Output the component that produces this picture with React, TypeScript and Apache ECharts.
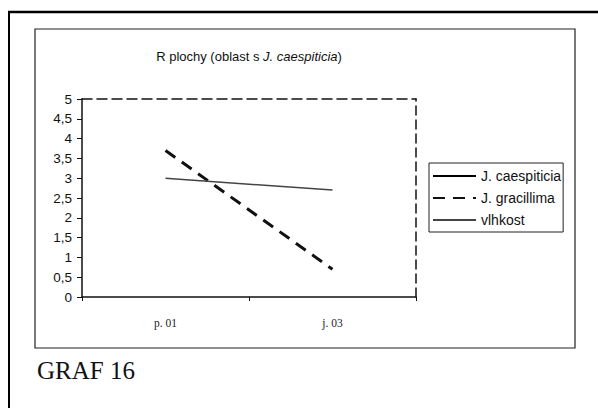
import React, { useEffect, useRef } from "react";
import * as echarts from "echarts";

const categories = ["p. 01", "j. 03"];
const seriesNames = ["J. caespiticia", "J. gracillima", "vlhkost"];
const caespiticia: (number | null)[] = [null, null];
const gracillima = [3.7, 0.7];
const vlhkost = [3.0, 2.7];
const yMin = 0;
const yMax = 5;
const yStep = 0.5;

export default function App() {
  const ref = useRef<HTMLDivElement>(null);
  useEffect(() => {
    if (!ref.current) return;
    const chart = echarts.init(ref.current, null, { renderer: "svg" });
    const sans = "Liberation Sans, Arial, sans-serif";
    const serif = "Liberation Serif, Times New Roman, serif";
    chart.setOption({
      animation: false,
      backgroundColor: "#ffffff",
      title: {
        text: "{n|R plochy (oblast s }{i|J. caespiticia}{n|)}",
        left: 244,
        top: 45,
        textAlign: "center",
        textStyle: {
          fontWeight: "normal",
          fontSize: 13,
          rich: {
            n: { fontFamily: sans, fontSize: 13, fontWeight: "normal", color: "#111" },
            i: { fontFamily: sans, fontSize: 13, fontWeight: "normal", fontStyle: "italic", color: "#111" },
          },
        },
      },
      legend: {
        orient: "vertical",
        left: 429,
        top: 163,
        padding: [6, 2, 5, 3],
        itemWidth: 43,
        itemHeight: 12,
        itemGap: 8,
        borderColor: "#222",
        borderWidth: 1,
        data: seriesNames,
        itemStyle: { opacity: 0 },
        textStyle: { fontFamily: sans, fontSize: 14, color: "#111" },
      },
      grid: { left: 82, top: 99, right: 182, bottom: 111 },
      xAxis: [
        {
          type: "category",
          data: categories,
          boundaryGap: true,
          axisLine: { onZero: false, lineStyle: { color: "#111", width: 1.5 } },
          axisTick: { show: true, length: 4, lineStyle: { color: "#111" } },
          axisLabel: { fontFamily: serif, fontSize: 11.5, color: "#222", margin: 20 },
        },
        {
          type: "category",
          data: categories,
          position: "top",
          axisLine: { onZero: false, lineStyle: { color: "#111", width: 1.5, type: [10, 5] } },
          axisTick: { show: false },
          axisLabel: { show: false },
        },
      ],
      yAxis: [
        {
          type: "value",
          min: yMin,
          max: yMax,
          interval: yStep,
          axisLine: { show: true, onZero: false, lineStyle: { color: "#111", width: 1.5 } },
          axisTick: { show: true, length: 5, lineStyle: { color: "#111" } },
          splitLine: { show: false },
          axisLabel: {
            fontFamily: sans,
            fontSize: 13.5,
            color: "#111",
            margin: 10,
            formatter: (v: number) => String(v).replace(".", ","),
          },
        },
        {
          type: "value",
          min: yMin,
          max: yMax,
          interval: yStep,
          position: "right",
          axisLine: { show: true, onZero: false, lineStyle: { color: "#111", width: 1.5, type: [9, 5] } },
          axisTick: { show: false },
          axisLabel: { show: false },
          splitLine: { show: false },
        },
      ],
      series: [
        {
          name: seriesNames[0],
          type: "line",
          data: caespiticia,
          symbol: "none",
          lineStyle: { color: "#000", width: 3 },
          itemStyle: { color: "#000" },
        },
        {
          name: seriesNames[1],
          type: "line",
          data: gracillima,
          symbol: "none",
          lineStyle: { color: "#111", width: 3, type: [12, 8] },
          itemStyle: { color: "#111" },
        },
        {
          name: seriesNames[2],
          type: "line",
          data: vlhkost,
          symbol: "none",
          lineStyle: { color: "#444", width: 1.5 },
          itemStyle: { color: "#444" },
        },
      ],
      graphic: [
        { type: "line", shape: { x1: 8, y1: 12, x2: 598, y2: 12 }, style: { stroke: "#000", lineWidth: 2.5 } },
        { type: "line", shape: { x1: 9, y1: 11, x2: 9, y2: 408 }, style: { stroke: "#000", lineWidth: 2 } },
        {
          type: "rect",
          shape: { x: 35, y: 29, width: 540, height: 319 },
          style: { fill: "none", stroke: "#222", lineWidth: 1.2 },
        },
        {
          type: "text",
          x: 37,
          y: 370,
          style: {
            text: "GRAF 16",
            font: "25px Liberation Serif, Times New Roman, serif",
            fill: "#111",
            verticalAlign: "middle",
          },
        },
      ],
    });
    return () => chart.dispose();
  }, []);
  return (
    <div
      ref={ref}
      style={{ position: "fixed", left: 0, top: 0, width: 598, height: 408, background: "#fff" }}
    />
  );
}
